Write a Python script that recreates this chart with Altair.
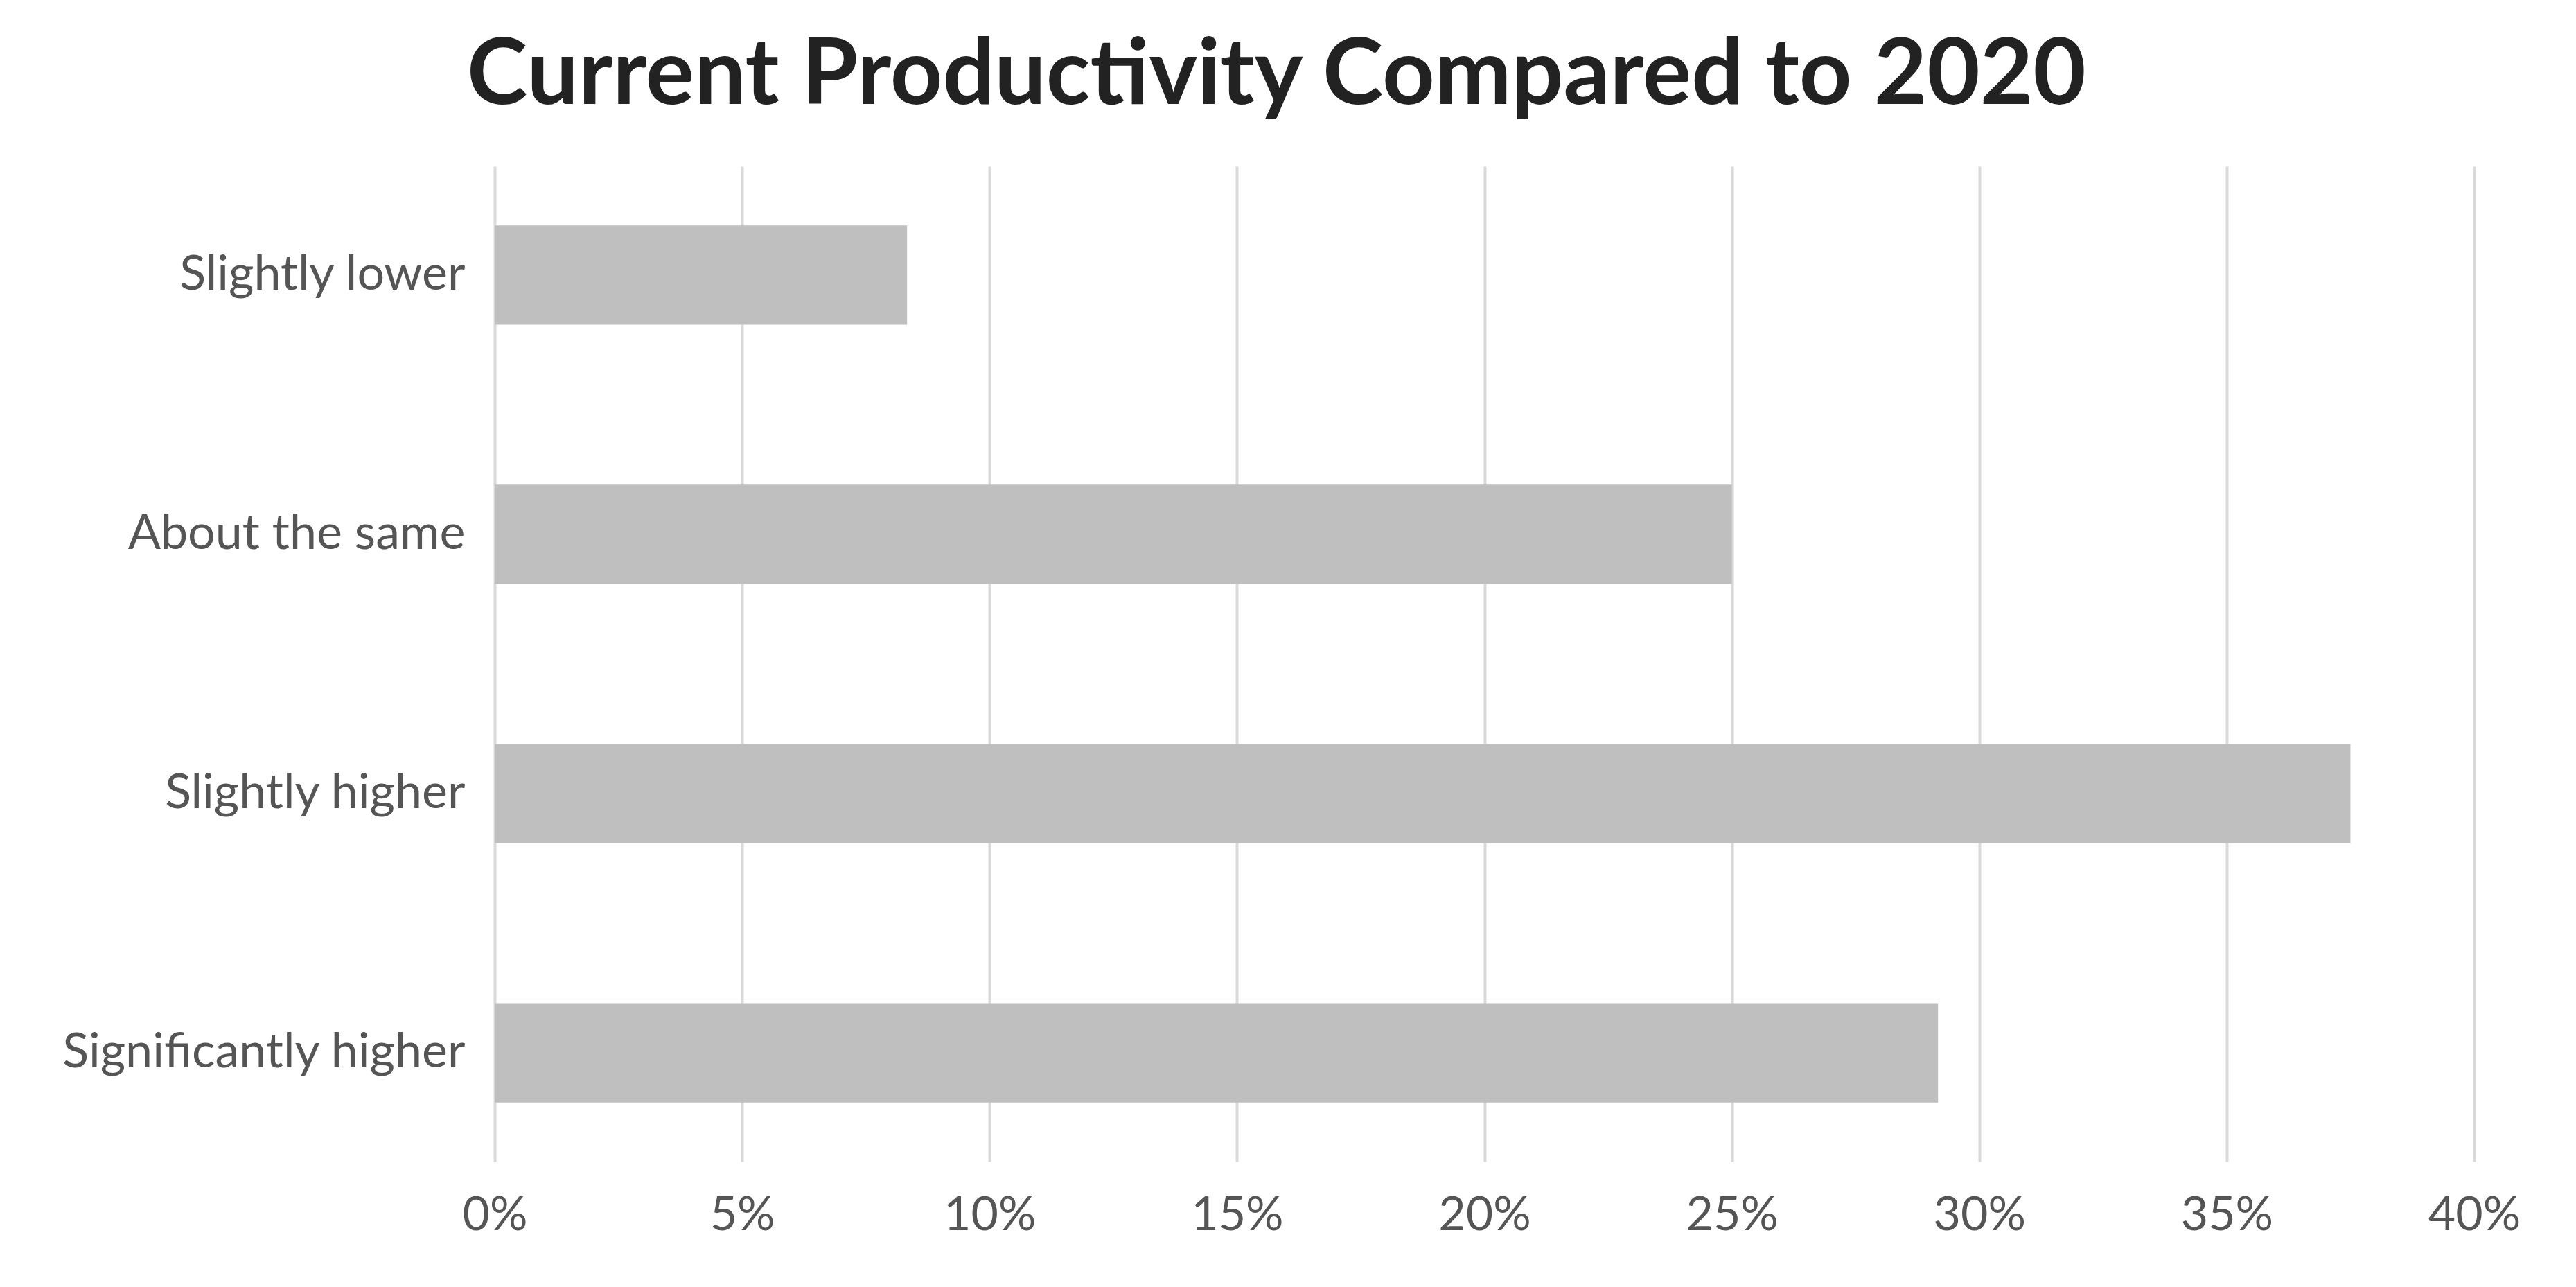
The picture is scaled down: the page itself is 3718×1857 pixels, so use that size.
import altair as alt
import pandas as pd

# Survey answers, shares of respondents
categories = ["Slightly lower", "About the same", "Slightly higher", "Significantly higher"]
shares = [2 / 24, 6 / 24, 9 / 24, 7 / 24]

df = pd.DataFrame({"answer": categories, "share": shares})

chart = alt.Chart(df).mark_bar(color="#bfbfbf").encode(
    x=alt.X(
        "share:Q",
        scale=alt.Scale(domain=[0, 0.4], nice=False),
        axis=alt.Axis(
            format=".0%", values=[0, 0.05, 0.1, 0.15, 0.2, 0.25, 0.3, 0.35, 0.4],
            title=None, domain=False, ticks=False, labelPadding=44,
            labelFlush=False,
            labelFontSize=68, labelColor="#555555", labelFont="Lato",
            gridColor="#d9d9d9", gridWidth=4,
        ),
    ),
    y=alt.Y(
        "answer:N",
        sort=categories,
        scale=alt.Scale(paddingInner=0.617, paddingOuter=0.228),
        axis=alt.Axis(
            title=None, domain=False, ticks=False, labelPadding=43,
            labelFontSize=70, labelColor="#555555", labelFont="Lato",
            labelLimit=1000,
        ),
    ),
).properties(
    width=2857,
    height=1436,
    title=alt.TitleParams(
        "Current Productivity Compared to 2020",
        fontSize=132, font="Lato", fontWeight="bold", color="#222222",
        dx=-300, offset=62,
    ),
    autosize="none",
    padding={"left": 706, "top": 232, "right": 139, "bottom": 173},
).configure_view(stroke=None)

chart.save("out.html", embed_options={"renderer": "svg", "actions": False})
